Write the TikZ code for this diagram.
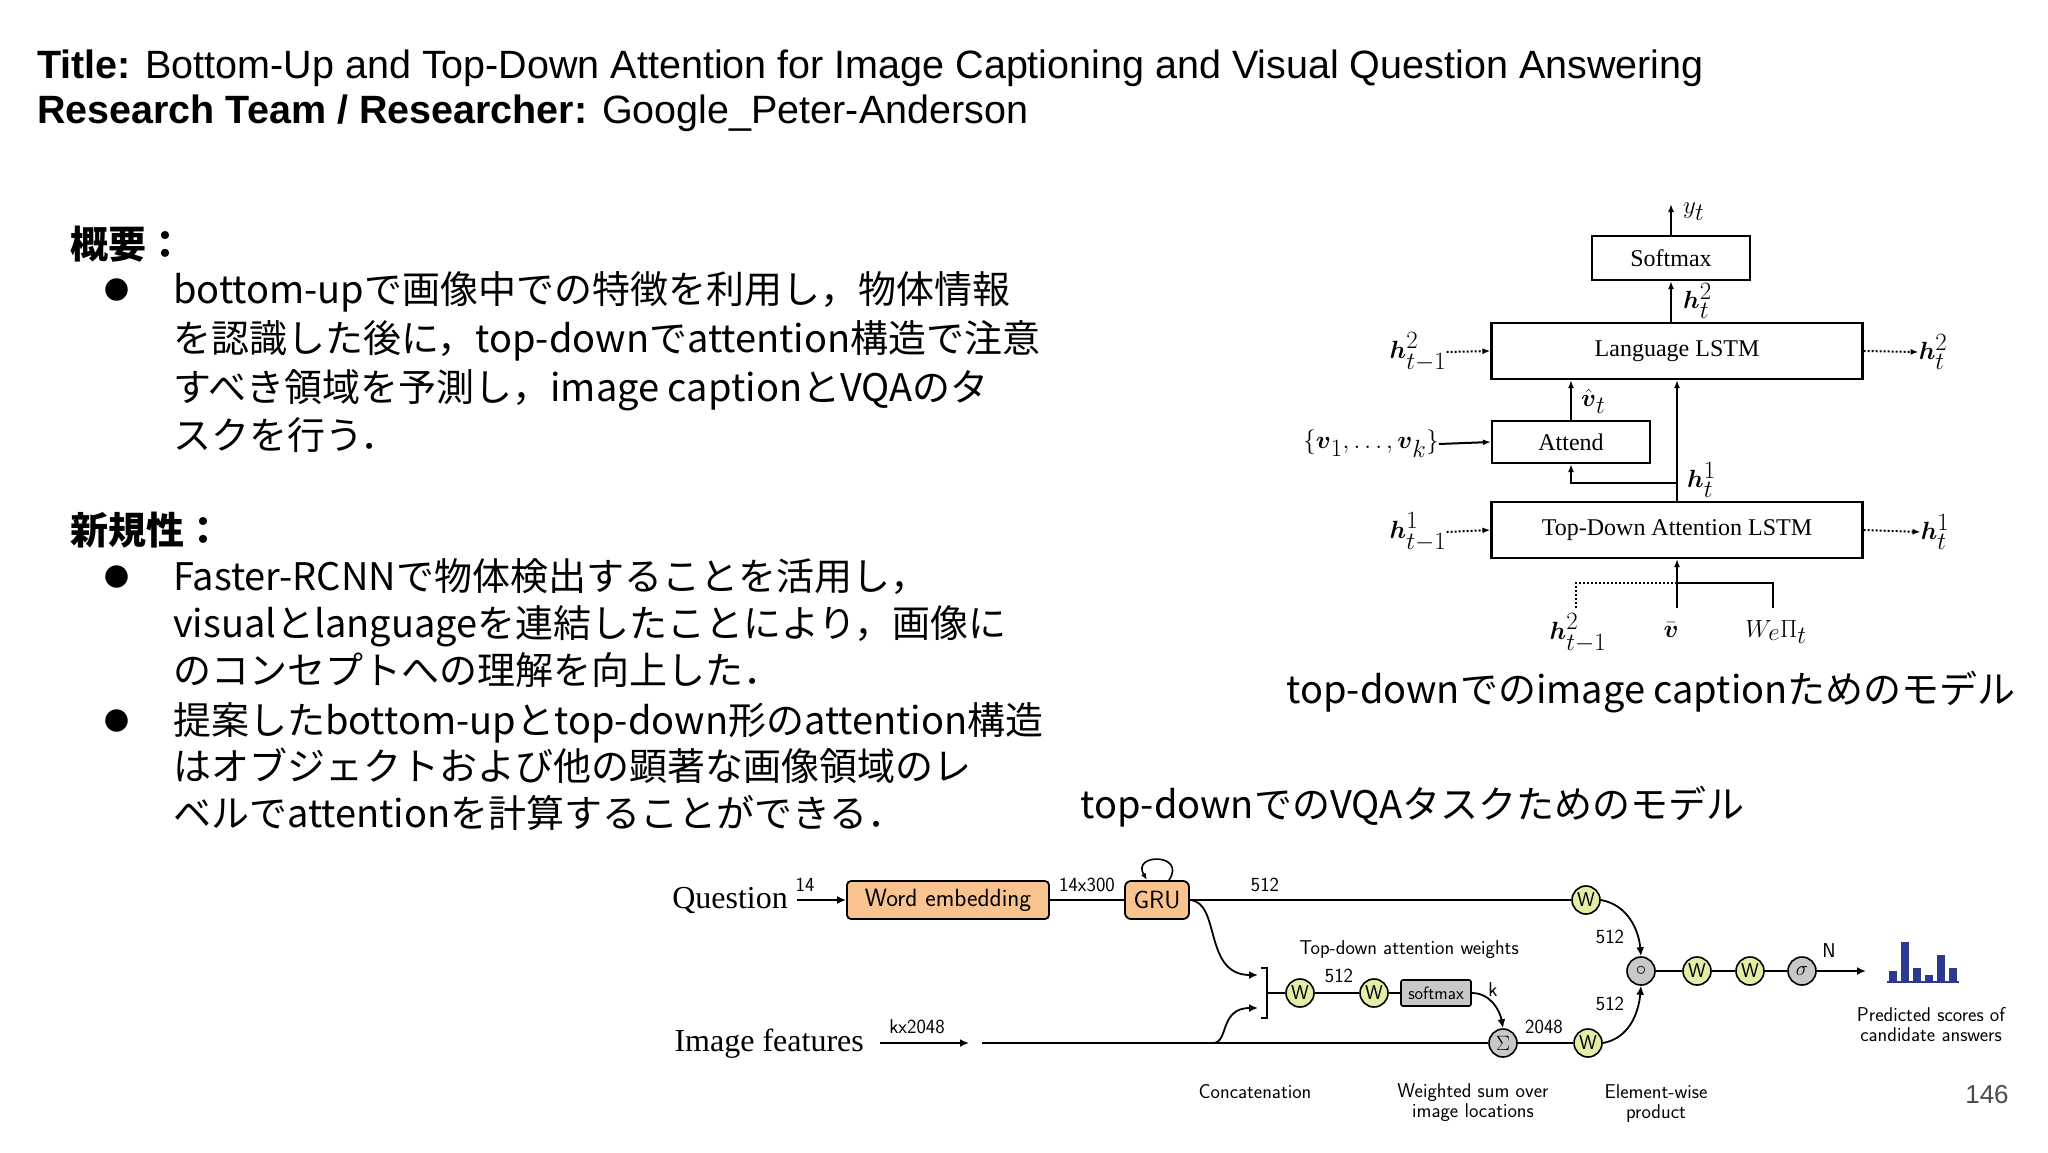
\documentclass[tikz,border=0pt]{standalone}
\usepackage{amsmath}
\usepackage{fontspec}
\setmainfont{Liberation Sans}
\newfontfamily\jp{Noto Sans CJK JP}
\newfontfamily\ser{Liberation Serif}
\usetikzlibrary{arrows.meta}
\definecolor{orfill}{HTML}{F9C38F}
\definecolor{wfill}{HTML}{E4ECA6}
\definecolor{gfill}{HTML}{C8C8C8}
\definecolor{barc}{HTML}{2B3990}
\newcommand{\fs}[1]{\fontsize{#1}{#1}\selectfont}
\begin{document}
\begin{tikzpicture}[x=1pt,y=-1pt,
  txt/.style={anchor=base west,inner sep=0},
  jl/.style={anchor=base west,inner sep=0,font=\jp\fs{38}},
  bul/.style={anchor=base west,inner sep=0,font=\jp\fs{25}},
  box/.style={draw,line width=2.2pt,inner sep=0,font=\ser\fs{24}},
  darr/.style={dotted,line width=2pt,-{Latex[length=8pt]}},
  sarr/.style={line width=2pt,-{Latex[length=8pt]}},
  lab/.style={inner sep=0,font=\fs{35}},
  wn/.style={circle,draw,line width=1.6pt,fill=wfill,inner sep=0,minimum size=28,font=\sffamily\fs{20}},
  gn/.style={circle,draw,line width=1.6pt,fill=gfill,inner sep=0,minimum size=28,font=\sffamily\fs{20}},
  bl/.style={line width=1.8pt},
  ba/.style={line width=1.8pt,-{Latex[length=9pt,width=8pt]}},
  sl/.style={inner sep=0,font=\sffamily\fs{20}}]
\useasboundingbox (0,0) rectangle (2048,1152);
\fill[white] (0,0) rectangle (2048,1152);
% title
\node[txt,font=\fs{39.5}] (t1) at (37,78) {\textbf{Title:} Bottom-Up and Top-Down Attention for Image Captioning and Visual Question Answering};
\node[txt,font=\fs{39.5}] (t2) at (37,123) {\textbf{Research Team / Researcher:} Google\_Peter-Anderson};
% left text
\node[jl,font=\jp\bfseries\fs{38}] (h1) at (70,258) {概要：};
\node[bul] (b1) at (104,299) {●};
\node[jl] (l1) at (173,303) {bottom-upで画像中での特徴を利用し，物体情報};
\node[jl] (l2) at (173,352) {を認識した後に，top-downでattention構造で注意};
\node[jl] (l3) at (173,401) {すべき領域を予測し，image captionとVQAのタ};
\node[jl] (l4) at (173,449) {スクを行う．};
\node[jl,font=\jp\bfseries\fs{38}] (h2) at (70,544) {新規性：};
\node[bul] (b2) at (104,586) {●};
\node[jl] (m1) at (173,590) {Faster-RCNNで物体検出することを活用し，};
\node[jl] (m2) at (173,637) {visualとlanguageを連結したことにより，画像に};
\node[jl] (m3) at (173,684) {のコンセプトへの理解を向上した．};
\node[bul] (b3) at (104,730) {●};
\node[jl] (m4) at (173,734) {提案したbottom-upとtop-down形のattention構造};
\node[jl] (m5) at (173,780) {はオブジェクトおよび他の顕著な画像領域のレ};
\node[jl] (m6) at (173,827) {ベルでattentionを計算することができる．};
% captions
\node[jl] (c1) at (1286,703) {top-downでのimage captionためのモデル};
\node[jl] (c2) at (1080,818) {top-downでのVQAタスクためのモデル};
\begin{scope}[xshift=-7pt]
% top-right diagram
\node[box,minimum width=158,minimum height=44] (soft) at (1678,258) {Softmax};
\node[box,minimum width=371,minimum height=56] (lang) at (1684,351) {Language LSTM};
\node[box,minimum width=158,minimum height=42] (att) at (1578,442) {Attend};
\node[box,minimum width=371,minimum height=56] (td) at (1684,530) {Top-Down Attention LSTM};
\coordinate (yt) at (1678,204);
\draw[sarr] (soft.north) -- (yt);
\node[lab,anchor=west] (ytl) at (1690,212) {$y_t$};
\draw[sarr] (soft.south |- lang.north) -- (soft.south);
\node[lab,anchor=west] (h2t) at (1690,301) {$\boldsymbol{h}^2_t$};
\node[lab] (hl2) at (1425,352) {$\boldsymbol{h}^2_{t-1}$};
\draw[darr] (hl2.east) -- (lang.west);
\node[lab] (hr2) at (1940,352) {$\boldsymbol{h}^2_t$};
\draw[darr] (lang.east) -- (hr2.west);
\draw[sarr] (att.north) -- (att.north |- lang.south);
\node[lab,anchor=west] (vh) at (1588,401) {$\hat{\boldsymbol{v}}_t$};
\node[lab] (vs) at (1378,444) {$\{\boldsymbol{v}_1,\ldots,\boldsymbol{v}_k\}$};
\draw[sarr] (vs.east) -- (att.west);
\draw[sarr] (td.north) -- (lang.south);
\coordinate (br) at (1684,483);
\draw[sarr] (br) -| (att.south);
\node[lab,anchor=west] (h1t) at (1694,480) {$\boldsymbol{h}^1_t$};
\node[lab] (hl1) at (1425,532) {$\boldsymbol{h}^1_{t-1}$};
\draw[darr] (hl1.east) -- (td.west);
\node[lab] (hr1) at (1942,532) {$\boldsymbol{h}^1_t$};
\draw[darr] (td.east) -- (hr1.west);
\node[lab] (hb) at (1585,633) {$\boldsymbol{h}^2_{t-1}$};
\node[lab] (vb) at (1678,630) {$\bar{\boldsymbol{v}}$};
\node[lab] (we) at (1783,632) {$W_e\Pi_t$};
\coordinate (j) at (1684,583);
\draw[sarr] (1684,608) -- (td.south);
\draw[dotted,line width=2pt] (1583,608) -- (1583,583) -- (j);
\draw[line width=2pt] (1780,608) -- (1780,583) -- (j);
\end{scope}
\begin{scope}[xshift=-9pt,yshift=3pt]
% VQA diagram
\node[anchor=base east,inner sep=0,font=\ser\fs{32}] (q) at (797,911) {Question};
\node[sl] at (814,888) {14};
\node[draw,line width=1.8pt,rounded corners=4,fill=orfill,minimum width=202,minimum height=38,inner sep=0,font=\sffamily\fs{25}] (wemb) at (957,903) {Word embedding};
\draw[ba] (806,903) -- (wemb.west);
\node[sl] at (1096,888) {14x300};
\node[draw,line width=1.8pt,rounded corners=6,fill=orfill,minimum width=64,minimum height=38,inner sep=0,font=\sffamily\fs{25}] (gru) at (1166,903) {GRU};
\draw[bl] (wemb.east) -- (gru.west);
\draw[line width=1.6pt,{Latex[length=7pt]}-] ([xshift=-10]gru.north) .. controls (1140,856) and (1196,856) .. ([xshift=12]gru.north);
\node[wn] (w1) at (1595,903) {W};
\draw[bl] (gru.east) -- (w1.west);
\node[sl] at (1274,888) {512};
\node[anchor=base east,inner sep=0,font=\ser\fs{32}] (imf) at (873,1054) {Image features};
\node[sl] at (926,1030) {kx2048};
\coordinate (ia) at (978,1046);
\draw[ba] (889,1046) -- (ia);
\node[gn] (sig) at (1512,1046) {$\Sigma$};
\draw[bl] (991,1046) -- (sig.west);
\coordinate (ca) at (1267,978);
\coordinate (cb) at (1267,1011);
\draw[ba] (gru.east) .. controls (1230,905) and (1212,978) .. (ca);
\draw[ba] (1222,1046) .. controls (1238,1046) and (1228,1011) .. (cb);
\draw[line width=1.4pt] (1270,971) -- (1276,971) -- (1276,1021) -- (1270,1021);
\node[wn] (w2) at (1309,996) {W};
\node[wn] (w3) at (1383,996) {W};
\node[draw,line width=1.6pt,fill=gfill,rounded corners=2,minimum width=70,minimum height=26,inner sep=0,font=\sffamily\fs{18}] (smx) at (1445,996) {softmax};
\draw[bl] (1276,996) -- (w2.west);
\draw[bl] (w2) -- (w3);
\draw[bl] (w3) -- (smx);
\node[sl] at (1348,979) {512};
\node[sl] at (1502,993) {k};
\node[sl] at (1418,953) {Top-down attention weights};
\draw[ba] (smx.east) to[out=0,in=100] (sig.north);
\node[wn] (w4) at (1597,1046) {W};
\draw[bl] (sig) -- (w4);
\node[sl] at (1553,1030) {2048};
\node[gn] (prod) at (1650,974) {$\circ$};
\draw[ba] (w1.east) to[out=-10,in=95] (prod.north);
\draw[ba] (w4.east) to[out=10,in=-95] (prod.south);
\node[sl] at (1619,940) {512};
\node[sl] at (1619,1007) {512};
\node[wn] (w5) at (1706,974) {W};
\node[wn] (w6) at (1759,974) {W};
\node[gn] (sgm) at (1811,974) {$\sigma$};
\coordinate (oa) at (1875,974);
\draw[bl] (prod) -- (w5);
\draw[bl] (w5) -- (w6);
\draw[bl] (w6) -- (sgm);
\draw[ba] (sgm.east) -- (oa);
\node[sl] at (1838,954) {N};
\foreach \x/\h in {1898/11,1910/40,1922/14,1934/7,1946/27,1958/14}
  \fill[barc] (\x,985) rectangle ++(8,-\h);
\draw[barc,line width=1.5pt] (1896,985) -- (1968,985);
\node[sl,align=center] at (1940,1028) {Predicted scores of\\candidate answers};
\node[sl] at (1264,1095) {Concatenation};
\node[sl,align=center] at (1482,1106) {Weighted sum over\\image locations};
\node[sl,align=center] at (1665,1106) {Element-wise\\product};
\end{scope}
\node[inner sep=0,font=\fs{26},text=black!70] (pg) at (1987,1095) {146};
\end{tikzpicture}
\end{document}
